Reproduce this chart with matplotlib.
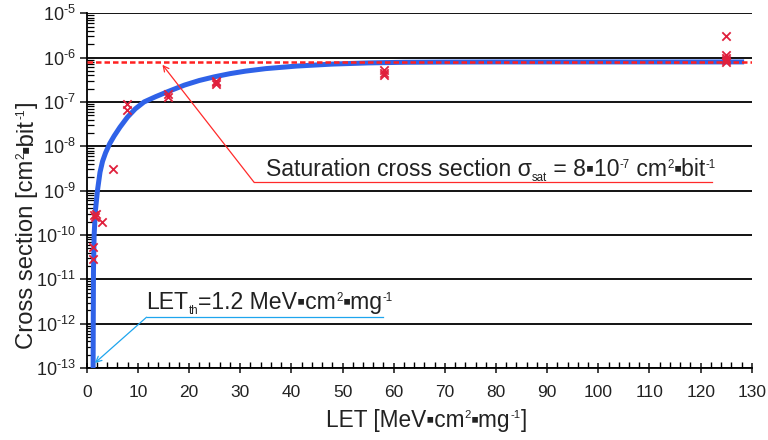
import math
import matplotlib
matplotlib.use("Agg")
import matplotlib.pyplot as plt
from matplotlib.font_manager import FontProperties
from matplotlib.ticker import FixedLocator, FuncFormatter, LogLocator, NullFormatter

FAMILY = ['Liberation Sans', 'DejaVu Sans']
plt.rcParams['font.family'] = FAMILY
plt.rcParams['mathtext.fontset'] = 'custom'
plt.rcParams['mathtext.rm'] = 'Liberation Sans'
plt.rcParams['mathtext.it'] = 'Liberation Sans'
plt.rcParams['mathtext.bf'] = 'Liberation Sans:bold'

# ---- data ----
# measured points (LET, cross section)
meas_let = [1.2, 1.2, 1.5, 1.7, 1.9, 2.9, 5.2, 7.8, 7.8, 15.8, 15.8,
            25.3, 25.3, 25.3, 58.2, 58.2, 58.2, 125, 125, 125, 125, 125]
meas_sig = [5.5e-11, 2.9e-11, 2.8e-10, 2.5e-10, 3.0e-10, 1.95e-10, 3.1e-9,
            9.0e-8, 6.6e-8, 1.3e-7, 1.5e-7, 2.5e-7, 2.8e-7, 3.0e-7,
            5.2e-7, 4.6e-7, 4.1e-7, 3.1e-6, 1.15e-6, 1.0e-6, 9.0e-7, 8.0e-7]

# fitted curve
fit_let = [1.25, 1.28, 1.32, 1.45, 1.7, 2.1, 2.6, 3.1, 3.7, 4.5, 5.35, 6.5,
           8.0, 9.5, 11.2, 13.5, 15.8, 19.1, 22.0, 25.0, 28.0, 31.0, 35.0,
           41.0, 48.0, 55.0, 62.0, 70.0, 80.0, 128.5]
fit_sig = [1e-13, 1e-12, 1.5e-11, 1e-10, 3.5e-10, 1.0e-9, 2.6e-9, 4.6e-9,
           7.2e-9, 1.15e-8, 1.7e-8, 2.7e-8, 4.6e-8, 7.0e-8, 1.0e-7, 1.32e-7,
           1.7e-7, 2.4e-7, 3.05e-7, 3.7e-7, 4.35e-7, 4.95e-7, 5.65e-7, 6.45e-7,
           7.15e-7, 7.6e-7, 7.85e-7, 7.95e-7, 8.0e-7, 8.0e-7]

sigma_sat = 8e-7
let_th = 1.2

x_ticks = list(range(0, 131, 10))
y_exponents = list(range(-13, -4))

SQ = '\u25aa'  # small square used as multiplication dot
sat_text = [('Saturation cross section \u03c3', 'n'), ('sat', 'sub'),
            (' = 8' + SQ + '10', 'n'), ('-7', 'sup'), (' cm', 'n'), ('2', 'sup'),
            (SQ + 'bit', 'n'), ('-1', 'sup')]
th_text = [('LET', 'n'), ('th', 'sub'), ('=1.2 MeV' + SQ + 'cm', 'n'), ('2', 'sup'),
           (SQ + 'mg', 'n'), ('-1', 'sup')]
xlabel_text = [('LET [MeV' + SQ + 'cm', 'n'), ('2', 'sup'), (SQ + 'mg', 'n'),
               ('-1', 'sup'), (']', 'n')]
ylabel_text = [('Cross section [cm', 'n'), ('2', 'sup'), (SQ + 'bit', 'n'),
               ('-1', 'sup'), (']', 'n')]

HY = '\u2010'

# ---- figure ----
fig = plt.figure(figsize=(7.68, 4.40), dpi=100)
ax = fig.add_axes([0.1129, 0.1636, 0.866, 0.8062])
renderer = fig.canvas.get_renderer()


def rich_text(xy, coords, pieces, size, color, rotation=0, align='left'):
    def adv(s, fs):
        prop = FontProperties(family=FAMILY, size=fs)
        w1 = renderer.get_text_width_height_descent('|' + s + '|', prop, ismath=False)[0]
        w0 = renderer.get_text_width_height_descent('||', prop, ismath=False)[0]
        return (w1 - w0) * 72.0 / fig.dpi

    items = []
    for s, kind in pieces:
        if kind == 'sup':
            fs, rise = size * 0.5, size * 0.37
        elif kind == 'sub':
            fs, rise = size * 0.5, -size * 0.22
        else:
            fs, rise = size, 0.0
        items.append((s, fs, rise, adv(s, fs)))
    total = sum(it[3] for it in items)
    pos = -total / 2.0 if align == 'center' else 0.0
    for s, fs, rise, w in items:
        off = (pos, rise) if rotation == 0 else (-rise, pos)
        ax.annotate(s, xy=xy, xycoords=coords, xytext=off, textcoords='offset points',
                    fontsize=fs, color=color, rotation=rotation, rotation_mode='anchor',
                    ha='left', va='baseline', annotation_clip=False, zorder=7)
        pos += w


ax.set_yscale('log')
ax.set_xlim(0, 130)
ax.set_ylim(1e-13, 1e-5)

for e in y_exponents:
    ax.axhline(10.0 ** e, color='black', lw=1.3, zorder=1)

ax.plot(fit_let, fit_sig, color='#2f62e8', lw=3.6, solid_capstyle='butt',
        solid_joinstyle='round', zorder=3)
ax.axhline(sigma_sat, color='#ff2020', lw=1.8, ls=(0, (2.2, 1.2)), zorder=4)
ax.scatter(meas_let, meas_sig, marker='x', s=36, color='#e0203c', lw=1.3, zorder=5)

# saturation annotation
red = '#ff2a2a'
ax.annotate('', xy=(14.8, 6.9e-7), xytext=(32.7, 1.55e-9),
            arrowprops=dict(arrowstyle='->', color=red, lw=0.9, shrinkA=0, shrinkB=0),
            zorder=6)
ax.plot([32.7, 122.2], [1.55e-9, 1.55e-9], color=red, lw=0.9, zorder=6)
rich_text((35.1, 2.1e-9), 'data', sat_text, 16.6, '#222222')

# threshold annotation
cyan = '#1ea5ee'
ax.annotate('', xy=(1.6, 1.3e-13), xytext=(11.7, 1.4e-12),
            arrowprops=dict(arrowstyle='->', color=cyan, lw=0.9, shrinkA=0, shrinkB=0),
            zorder=6)
ax.plot([11.7, 57.9], [1.4e-12, 1.4e-12], color=cyan, lw=0.9, zorder=6)
rich_text((11.7, 2.1e-12), 'data', th_text, 16.6, '#222222')

# axis labels
rich_text((0.5107, -0.1655), 'axes fraction', xlabel_text, 16.3, '#222222', align='center')
rich_text((-0.0807, 0.403), 'axes fraction', ylabel_text, 17.2, '#222222',
          rotation=90, align='center')

# axes styling
for s in ('top', 'right'):
    ax.spines[s].set_visible(False)
for s in ('left', 'bottom'):
    ax.spines[s].set_linewidth(1.3)

ax.xaxis.set_major_locator(FixedLocator(x_ticks))
ax.xaxis.set_minor_locator(FixedLocator([v for v in range(0, 131, 2) if v % 10]))
ax.yaxis.set_major_locator(FixedLocator([10.0 ** e for e in y_exponents]))
ax.yaxis.set_minor_locator(LogLocator(base=10, subs=range(2, 10), numticks=30))
ax.yaxis.set_minor_formatter(NullFormatter())
ax.yaxis.set_major_formatter(FuncFormatter(
    lambda v, p: '10$^{' + HY + '%d}$' % abs(round(math.log10(v)))))

ax.tick_params(axis='x', which='major', direction='inout', length=7, width=1.2,
               labelsize=12.5, pad=9, colors='#222222')
ax.tick_params(axis='x', which='minor', direction='in', length=4, width=1.0)
ax.tick_params(axis='y', which='major', direction='out', length=5, width=1.2,
               labelsize=13, pad=3, colors='#222222')
ax.tick_params(axis='y', which='minor', direction='in', length=5, width=0.9)

fig.savefig('out.png', dpi=100)
